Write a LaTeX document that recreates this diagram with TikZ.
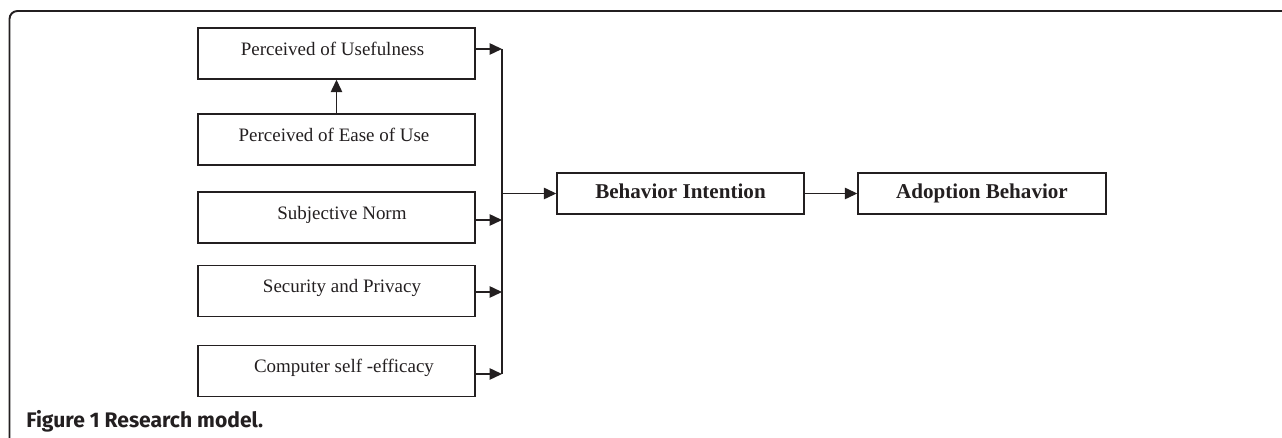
\documentclass[tikz,border=0pt]{standalone}
\usepackage{fontspec}
\setmainfont{Liberation Serif}
\newfontfamily\capfont{Fira Sans}
\usetikzlibrary{arrows.meta}
\definecolor{ink}{HTML}{231F20}
\tikzset{
	factor/.style={draw=ink, line width=0.85pt, text=ink, inner sep=0pt, minimum width=5.54cm, minimum height=1.02cm, font=\fontsize{10.8}{12}\selectfont, text height=8pt, text depth=6.1pt},
	stage/.style={draw=ink, line width=0.85pt, text=ink, inner sep=0pt, minimum height=0.82cm, font=\fontsize{12}{14}\selectfont\bfseries, text height=8.2pt, text depth=2.6pt},
	conn/.style={draw=ink, line width=0.8pt, -{Triangle[length=0.25cm, width=0.23cm]}},
	frame/.style={draw=ink, line width=1.1pt}
}
\begin{document}
\begin{tikzpicture}[x=0.02cm, y=-0.02cm]
			%%%%% START %%%%%
			\useasboundingbox (0, 0) rectangle (1282, 438);
			
			\draw[frame, rounded corners=0.16cm] (9.5, 460) -- (9.5, 11) -- (1300, 11);
			
			\node[factor] (useful) at (336.5, 53.5) {Perceived of Usefulness\hspace*{0.16cm}};
			\node[factor] (ease) at (336.5, 139.5) {Perceived of Ease of Use\hspace*{0.1cm}};
			\node[factor] (norm) at (336.5, 217.5) {\hspace*{0.22cm}Subjective Norm};
			\node[factor] (privacy) at (336.5, 291) {\hspace*{0.22cm}Security and Privacy};
			\node[factor] (efficacy) at (336.5, 371) {\hspace*{0.3cm}Computer self -efficacy};
			
			\node[stage, minimum width=4.94cm] (intention) at (680.5, 193.5) {Behavior Intention};
			\node[stage, minimum width=4.96cm] (adoption) at (982, 193.5) {Adoption Behavior};
			
			\coordinate (bustop) at (502, 49);
			\coordinate (busnorm) at (502, 220);
			\coordinate (busprivacy) at (502, 292);
			\coordinate (busbot) at (502, 374);
			
			\draw[conn] (ease) -- (useful);
			\draw[draw=ink, line width=0.8pt] (bustop) -- (busbot);
			\draw[conn] (useful.east |- bustop) -- (bustop);
			\draw[conn] (norm.east |- busnorm) -- (busnorm);
			\draw[conn] (privacy.east |- busprivacy) -- (busprivacy);
			\draw[conn] (efficacy.east |- busbot) -- (busbot);
			
			\draw[conn] (intention.west -| bustop) -- (intention);
			\draw[conn] (intention) -- (adoption);
			
			\node[anchor=base west, inner sep=0pt, text=ink, font=\capfont\bfseries\fontsize{12}{14}\selectfont] (caption) at (26, 428) {Figure 1 Research model.};
			%%%%% END %%%%%
\end{tikzpicture}
\end{document}
